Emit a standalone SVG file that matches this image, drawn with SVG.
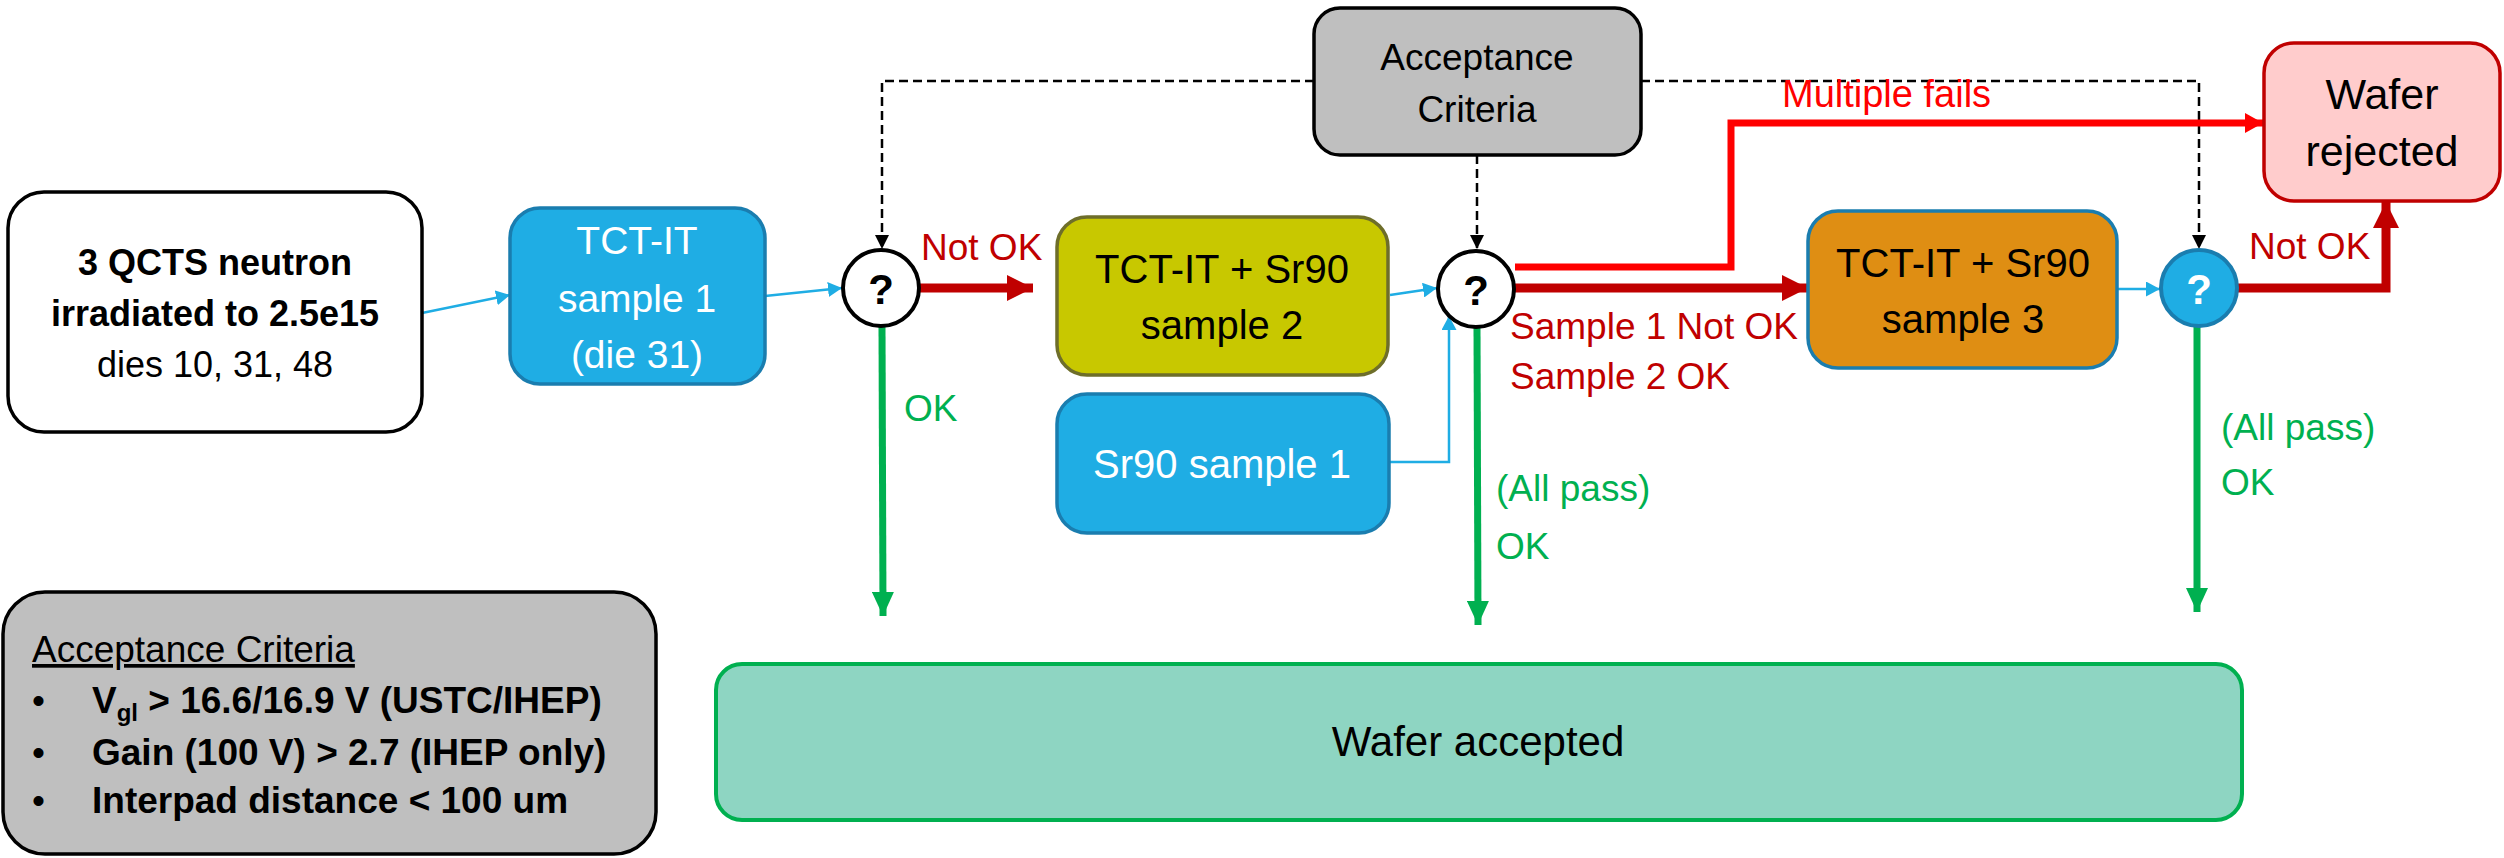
<svg xmlns="http://www.w3.org/2000/svg" width="2504" height="858" viewBox="0 0 2504 858">
<style>
text{font-family:"Liberation Sans",Arial,sans-serif;}
.c{text-anchor:middle;}
.blue{stroke:#1FADE4;stroke-width:2.5;fill:none;}
.dred{stroke:#C00000;stroke-width:9;fill:none;}
.bred{stroke:#FF0000;stroke-width:7;fill:none;}
.grn{stroke:#00B050;stroke-width:7;fill:none;}
.dash{stroke:#000;stroke-width:2.5;fill:none;stroke-dasharray:9 5;}
.lr{fill:#C00000;font-size:37px;}
.lg{fill:#00B050;font-size:37px;}
.q{font-size:42px;font-weight:bold;}
</style>
<defs>
<marker id="mBlue" markerUnits="userSpaceOnUse" viewBox="0 0 14 15" refX="14" refY="7.5" markerWidth="14" markerHeight="15" orient="auto"><path d="M0,0 L14,7.5 L0,15 z" fill="#1FADE4"/></marker>
<marker id="mDred" markerUnits="userSpaceOnUse" viewBox="0 0 26 26" refX="26" refY="13" markerWidth="26" markerHeight="26" orient="auto"><path d="M0,0 L26,13 L0,26 z" fill="#C00000"/></marker>
<marker id="mBred" markerUnits="userSpaceOnUse" viewBox="0 0 18 20" refX="18" refY="10" markerWidth="18" markerHeight="20" orient="auto"><path d="M0,0 L18,10 L0,20 z" fill="#FF0000"/></marker>
<marker id="mGrn" markerUnits="userSpaceOnUse" viewBox="0 0 24 22" refX="24" refY="11" markerWidth="24" markerHeight="22" orient="auto"><path d="M0,0 L24,11 L0,22 z" fill="#00B050"/></marker>
<marker id="mBlk" markerUnits="userSpaceOnUse" viewBox="0 0 14 14" refX="14" refY="7" markerWidth="14" markerHeight="14" orient="auto"><path d="M0,0 L14,7 L0,14 z" fill="#000"/></marker>
</defs>
<rect width="2504" height="858" fill="#fff"/>

<g id="connectors">
<path class="dash" d="M1314,81 H882 V249" marker-end="url(#mBlk)"/>
<path class="dash" d="M1477,155 V249" marker-end="url(#mBlk)"/>
<path class="dash" d="M1641,81 H2199 V249" marker-end="url(#mBlk)"/>
<path class="blue" d="M422,313 L510,295" marker-end="url(#mBlue)"/>
<path class="blue" d="M765,296 L842,288" marker-end="url(#mBlue)"/>
<path class="blue" d="M1390,295 L1437,288" marker-end="url(#mBlue)"/>
<path class="blue" d="M1390,462 H1449 V316" marker-end="url(#mBlue)"/>
<path class="blue" d="M2117,289 H2160" marker-end="url(#mBlue)"/>
<path class="dred" d="M919,288 H1033" marker-end="url(#mDred)"/>
<path class="dred" d="M1515,288 H1808" marker-end="url(#mDred)"/>
<path class="dred" d="M2237,288 H2386 V202" marker-end="url(#mDred)"/>
<path class="bred" d="M1515,267 H1731 V123 H2263" marker-end="url(#mBred)"/>
<path class="grn" d="M882,327 L883,616" marker-end="url(#mGrn)"/>
<path class="grn" d="M1477,327 L1478,625" marker-end="url(#mGrn)"/>
<path class="grn" d="M2197,327 V612" marker-end="url(#mGrn)"/>
<text class="lr" x="921" y="260">Not OK</text>
<text x="1782" y="107" fill="#FF0000" font-size="38">Multiple fails</text>
<text class="lr" x="1510" y="339">Sample 1 Not OK</text>
<text class="lr" x="1510" y="389">Sample 2 OK</text>
<text class="lr" x="2249" y="259">Not OK</text>
<text class="lg" x="904" y="421">OK</text>
<text class="lg" x="1496" y="501">(All pass)</text>
<text class="lg" x="1496" y="559">OK</text>
<text class="lg" x="2221" y="440">(All pass)</text>
<text class="lg" x="2221" y="495">OK</text>
</g>

<g id="start">
<rect x="8" y="192" width="414" height="240" rx="36" fill="#fff" stroke="#000" stroke-width="3.5"/>
<text class="c" x="215" y="275" font-size="36" font-weight="bold">3 QCTS neutron</text>
<text class="c" x="215" y="326" font-size="36" font-weight="bold">irradiated to 2.5e15</text>
<text class="c" x="215" y="377" font-size="36">dies 10, 31, 48</text>
</g>

<g id="tct1">
<rect x="510" y="208" width="255" height="176" rx="30" fill="#1FADE4" stroke="#1A7DAF" stroke-width="3.5"/>
<text class="c" x="637" y="254" font-size="39" fill="#fff">TCT-IT</text>
<text class="c" x="637" y="312" font-size="39" fill="#fff">sample 1</text>
<text class="c" x="637" y="368" font-size="39" fill="#fff">(die 31)</text>
</g>

<g id="decision1">
<circle cx="881" cy="288" r="38" fill="#fff" stroke="#000" stroke-width="4"/>
<text class="c q" x="881" y="304">?</text>
</g>

<g id="criteriaTop">
<rect x="1314" y="8" width="327" height="147" rx="26" fill="#BFBFBF" stroke="#000" stroke-width="3.5"/>
<text class="c" x="1477" y="70" font-size="37">Acceptance</text>
<text class="c" x="1477" y="122" font-size="37">Criteria</text>
</g>

<g id="tct2">
<rect x="1057" y="217" width="331" height="158" rx="30" fill="#C8C800" stroke="#6E6E2A" stroke-width="3.5"/>
<text class="c" x="1222" y="283" font-size="40">TCT-IT + Sr90</text>
<text class="c" x="1222" y="339" font-size="40">sample 2</text>
</g>

<g id="sr90">
<rect x="1057" y="394" width="332" height="139" rx="30" fill="#1FADE4" stroke="#1A7DAF" stroke-width="3.5"/>
<text class="c" x="1222" y="478" font-size="40" fill="#fff">Sr90 sample 1</text>
</g>

<g id="decision2">
<circle cx="1476" cy="289" r="38" fill="#fff" stroke="#000" stroke-width="4"/>
<text class="c q" x="1476" y="305">?</text>
</g>

<g id="tct3">
<rect x="1808" y="211" width="309" height="157" rx="30" fill="#DF8E13" stroke="#1A7DAF" stroke-width="3.5"/>
<text class="c" x="1963" y="277" font-size="40">TCT-IT + Sr90</text>
<text class="c" x="1963" y="333" font-size="40">sample 3</text>
</g>

<g id="decision3">
<circle cx="2199" cy="288" r="38" fill="#1FADE4" stroke="#1A7DAF" stroke-width="4"/>
<text class="c q" x="2199" y="304" fill="#fff" font-weight="normal">?</text>
</g>

<g id="rejected">
<rect x="2264" y="43" width="236" height="158" rx="30" fill="#FFCCCC" stroke="#C00000" stroke-width="3.5"/>
<text class="c" x="2382" y="109" font-size="43">Wafer</text>
<text class="c" x="2382" y="166" font-size="43">rejected</text>
</g>

<g id="accepted">
<rect x="716" y="664" width="1526" height="156" rx="26" fill="#8ED5C2" stroke="#00B050" stroke-width="4"/>
<text class="c" x="1478" y="756" font-size="42">Wafer accepted</text>
</g>

<g id="criteriaBox">
<rect x="3" y="592" width="653" height="262" rx="42" fill="#BFBFBF" stroke="#000" stroke-width="3.5"/>
<text x="32" y="662" font-size="37" text-decoration="underline">Acceptance Criteria</text>
<text x="32" y="713" font-size="37">•</text>
<text x="32" y="765" font-size="37">•</text>
<text x="32" y="813" font-size="37">•</text>
<text x="92" y="713" font-size="37" font-weight="bold">V<tspan font-size="24" dy="8">gl</tspan><tspan dy="-8"> &gt; 16.6/16.9 V (USTC/IHEP)</tspan></text>
<text x="92" y="765" font-size="37" font-weight="bold">Gain (100 V) &gt; 2.7 (IHEP only)</text>
<text x="92" y="813" font-size="37" font-weight="bold">Interpad distance &lt; 100 um</text>
</g>
</svg>
